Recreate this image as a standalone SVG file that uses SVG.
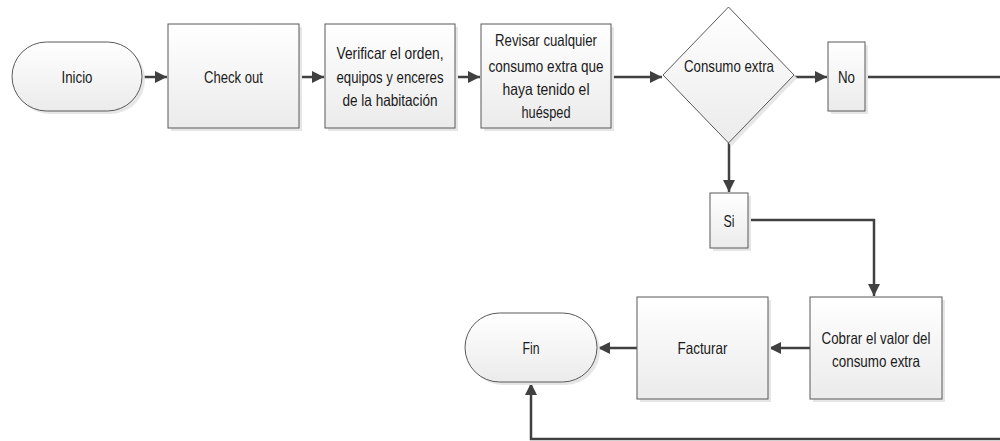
<svg xmlns="http://www.w3.org/2000/svg" width="1000" height="441" viewBox="0 0 1000 441">
<style>
.shape{fill:url(#g);stroke:#595959;stroke-width:1}
.shadow{fill:#e6e6e6;stroke:none}
.t{font-family:"Liberation Sans",Arial,sans-serif;font-size:16.5px;fill:#1a1a1a;text-anchor:middle}
.c{fill:none;stroke:#404040;stroke-width:2.5}
</style>
<defs>
<linearGradient id="g" x1="0" y1="0" x2="0" y2="1">
<stop offset="0" stop-color="#ffffff"/>
<stop offset="1" stop-color="#ebebeb"/>
</linearGradient>
<marker id="a" markerUnits="userSpaceOnUse" markerWidth="13" markerHeight="12" refX="12" refY="6" orient="auto">
<path d="M0,0 L12,6 L0,12 z" fill="#404040"/>
</marker>
</defs>
<rect width="1000" height="441" fill="#ffffff"/>

<g id="connectors">
<path class="c" d="M142,77 H167" marker-end="url(#a)"/>
<path class="c" d="M299,77 H324" marker-end="url(#a)"/>
<path class="c" d="M455,77 H480" marker-end="url(#a)"/>
<path class="c" d="M611,77 H662" marker-end="url(#a)"/>
<path class="c" d="M794,77 H827" marker-end="url(#a)"/>
<path class="c" d="M865,77 H1012 V439 H531 V383" marker-end="url(#a)"/>
<path class="c" d="M729,143 V192" marker-end="url(#a)"/>
<path class="c" d="M748,220 H874 V296" marker-end="url(#a)"/>
<path class="c" d="M810,348 H769" marker-end="url(#a)"/>
<path class="c" d="M637,348 H598" marker-end="url(#a)"/>
</g>

<g id="inicio">
<rect class="shadow" x="15" y="45" width="130" height="69" rx="34.5"/>
<rect class="shape" x="12" y="42" width="130" height="69" rx="34.5"/>
<text class="t" x="77" y="83" textLength="31" lengthAdjust="spacingAndGlyphs">Inicio</text>
</g>

<g id="checkout">
<rect class="shadow" x="171" y="27" width="131" height="104"/>
<rect class="shape" x="168" y="24" width="131" height="104"/>
<text class="t" x="233.5" y="83" textLength="59" lengthAdjust="spacingAndGlyphs">Check out</text>
</g>

<g id="verificar">
<rect class="shadow" x="328" y="27" width="130" height="104"/>
<rect class="shape" x="325" y="24" width="130" height="104"/>
<text class="t" x="390" y="59" textLength="107" lengthAdjust="spacingAndGlyphs">Verificar el orden,</text>
<text class="t" x="390" y="83" textLength="107" lengthAdjust="spacingAndGlyphs">equipos y enceres</text>
<text class="t" x="390" y="106" textLength="95" lengthAdjust="spacingAndGlyphs">de la habitación</text>
</g>

<g id="revisar">
<rect class="shadow" x="484" y="27" width="130" height="104"/>
<rect class="shape" x="481" y="24" width="130" height="104"/>
<text class="t" x="546" y="46" textLength="102" lengthAdjust="spacingAndGlyphs">Revisar cualquier</text>
<text class="t" x="546" y="72" textLength="115" lengthAdjust="spacingAndGlyphs">consumo extra que</text>
<text class="t" x="546" y="95" textLength="87" lengthAdjust="spacingAndGlyphs">haya tenido el</text>
<text class="t" x="546" y="118" textLength="49" lengthAdjust="spacingAndGlyphs">huésped</text>
</g>

<g id="decision">
<polygon class="shadow" points="731.5,10 797,78 731.5,146 666,78"/>
<polygon class="shape" points="728.5,7 794,75 728.5,143 663,75"/>
<text class="t" x="729" y="72" textLength="90" lengthAdjust="spacingAndGlyphs">Consumo extra</text>
</g>

<g id="no">
<rect class="shadow" x="831" y="45" width="37" height="69"/>
<rect class="shape" x="828" y="42" width="37" height="69"/>
<text class="t" x="846.5" y="83" textLength="17" lengthAdjust="spacingAndGlyphs">No</text>
</g>

<g id="si">
<rect class="shadow" x="713" y="196" width="38" height="55"/>
<rect class="shape" x="710" y="193" width="38" height="55"/>
<text class="t" x="729" y="227" textLength="11" lengthAdjust="spacingAndGlyphs">Si</text>
</g>

<g id="cobrar">
<rect class="shadow" x="813" y="300" width="132" height="102"/>
<rect class="shape" x="810" y="297" width="132" height="102"/>
<text class="t" x="876" y="344" textLength="109" lengthAdjust="spacingAndGlyphs">Cobrar el valor del</text>
<text class="t" x="876" y="367" textLength="88" lengthAdjust="spacingAndGlyphs">consumo extra</text>
</g>

<g id="facturar">
<rect class="shadow" x="640" y="300" width="131" height="102"/>
<rect class="shape" x="637" y="297" width="131" height="102"/>
<text class="t" x="702.5" y="354" textLength="50" lengthAdjust="spacingAndGlyphs">Facturar</text>
</g>

<g id="fin">
<rect class="shadow" x="468" y="316" width="132" height="69" rx="34.5"/>
<rect class="shape" x="465" y="313" width="132" height="69" rx="34.5"/>
<text class="t" x="531" y="354" textLength="17" lengthAdjust="spacingAndGlyphs">Fin</text>
</g>
</svg>
